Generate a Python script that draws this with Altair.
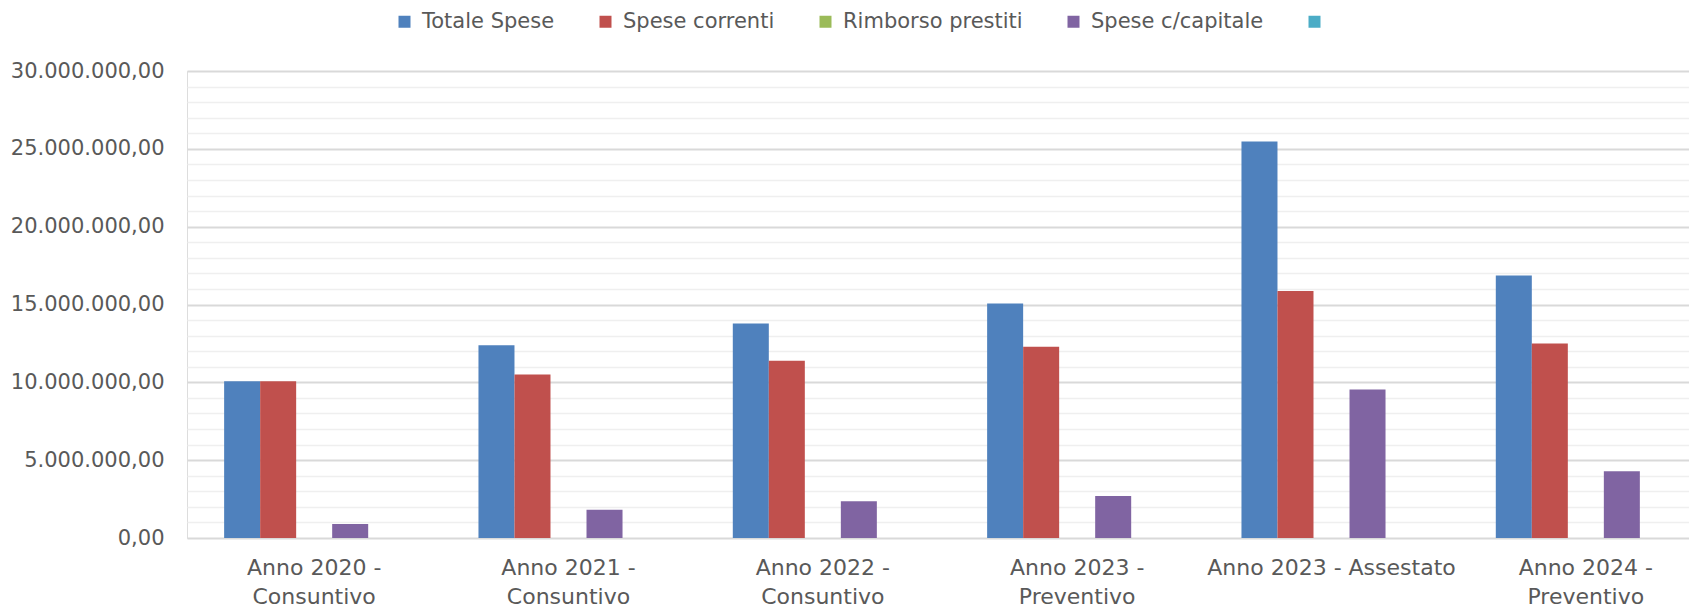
import altair as alt
import pandas as pd

categories = ["Anno 2020 - Consuntivo", "Anno 2021 - Consuntivo", "Anno 2022 - Consuntivo",
              "Anno 2023 - Preventivo", "Anno 2023 - Assestato", "Anno 2024 - Preventivo"]
series = ["Totale Spese", "Spese correnti", "Rimborso prestiti", "Spese c/capitale", " "]
colors = ["#4F81BD", "#C0504D", "#9BBB59", "#8064A2", "#4BACC6"]

totale_spese = [10070000, 12380000, 13780000, 15060000, 25470000, 16860000]
spese_correnti = [10070000, 10500000, 11380000, 12280000, 15870000, 12490000]
rimborso_prestiti = [0, 0, 0, 0, 0, 0]
spese_capitale = [900000, 1820000, 2360000, 2700000, 9540000, 4290000]
serie_vuota = [0, 0, 0, 0, 0, 0]

y_ticks = [i * 1000000 for i in range(0, 31)]

values_by_series = [totale_spese, spese_correnti, rimborso_prestiti, spese_capitale, serie_vuota]
rows = []
for s, vals in zip(series, values_by_series):
    for c, v in zip(categories, vals):
        rows.append({"categoria": c, "serie": s, "valore": v})
df = pd.DataFrame(rows)

FONT = "DejaVu Sans"
GRAY = "#595959"

y_label_expr = (
    "datum.value % 5000000 === 0 ? "
    "replace(replace(replace(format(datum.value, ',.2f'), regexp(',', 'g'), '#'), '.', ','), regexp('#', 'g'), '.')"
    " : ''"
)
x_label_expr = (
    "length(datum.value) > 21 ? split(replace(datum.value, ' - ', ' -|'), '|') : datum.value"
)

chart = alt.Chart(df).mark_bar().encode(
    x=alt.X(
        "categoria:N",
        sort=categories,
        scale=alt.Scale(range=[0, 1526], paddingInner=0.292, paddingOuter=0.146),
        axis=alt.Axis(
            title=None, domain=False, ticks=False, grid=False,
            labelAngle=0, labelFont=FONT, labelFontSize=22, labelColor=GRAY,
            labelPadding=19, labelBaseline="top", labelLineHeight=29,
            labelExpr=x_label_expr, labelOverlap=False, labelLimit=400,
        ),
    ),
    xOffset=alt.XOffset("serie:N", sort=series, scale=alt.Scale(paddingInner=0, paddingOuter=0)),
    y=alt.Y(
        "valore:Q",
        scale=alt.Scale(domain=[0, 30000000], nice=False),
        axis=alt.Axis(
            title=None, domain=False, ticks=False,
            values=y_ticks, labelExpr=y_label_expr,
            labelFont=FONT, labelFontSize=21, labelColor=GRAY, labelPadding=23,
            gridColor={"condition": {"test": "datum.value % 5000000 === 0", "value": "#d9d9d9"}, "value": "#efefef"},
            gridWidth={"condition": {"test": "datum.value % 5000000 === 0", "value": 2}, "value": 1.5},
            labelOverlap=False,
        ),
    ),
    color=alt.Color(
        "serie:N",
        sort=series,
        scale=alt.Scale(domain=series, range=colors),
        legend=alt.Legend(
            title=None, orient="none", direction="horizontal",
            legendX=207, legendY=-60,
            symbolType="square", symbolSize=144, symbolStrokeWidth=0,
            labelFont=FONT, labelFontSize=21, labelColor=GRAY, labelOffset=7,
            columnPadding=40, labelLimit=400,
        ),
    ),
).properties(
    width=1502,
    height=467,
    autosize=alt.AutoSizeParams(type="none"),
    padding={"left": 179, "top": 63, "right": 0, "bottom": 72},
).configure_view(stroke=None).configure(background="white")

chart.save("out.html", embed_options={"renderer": "svg", "actions": False})
